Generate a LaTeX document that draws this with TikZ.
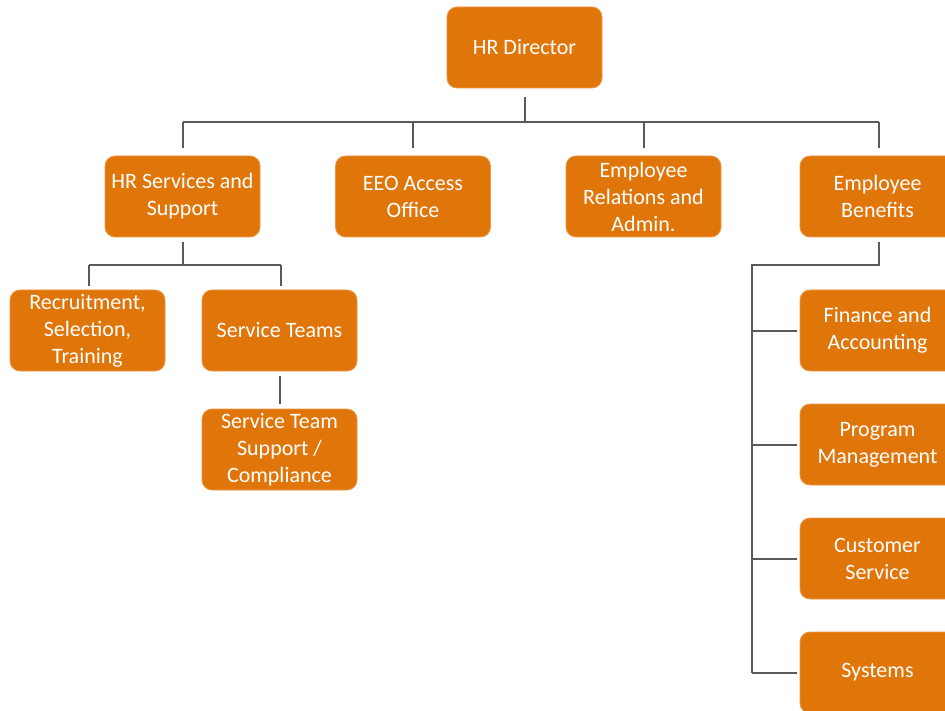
\documentclass[tikz,border=0pt]{standalone}
\usepackage{fontspec}
\setmainfont{Carlito}
\begin{document}
\begin{tikzpicture}[x=1pt,y=-1pt,
  box/.style={rectangle, rounded corners=10pt, draw=orgedge, line width=0.8pt, fill=org, text=white,
    minimum width=155pt, minimum height=81pt, inner sep=2pt, align=center,
    font=\fontsize{22}{27}\selectfont},
  conn/.style={draw=lineg, line width=2pt}]
\definecolor{org}{RGB}{224,118,10}
\definecolor{orgedge}{RGB}{236,150,70}
\definecolor{lineg}{RGB}{90,90,90}
\useasboundingbox (0,0) rectangle (945,711);
\node[box] (dir) at (524.5,47.5) {HR Director};
\node[box] (hrs) at (182.5,196.5) {HR Services and\\Support};
\node[box] (eeo) at (413,196.5) {EEO Access\\Office};
\node[box] (rel) at (643.5,196.5) {Employee\\Relations and\\Admin.};
\node[box] (ben) at (877.5,196.5) {Employee\\Benefits};
\node[box] (rec) at (87.5,330.5) {Recruitment,\\Selection,\\Training};
\node[box] (st) at (279.5,330.5) {Service Teams};
\node[box] (sts) at (279.5,449.5) {Service Team\\Support /\\Compliance};
\node[box] (fin) at (877.5,330.5) {Finance and\\Accounting};
\node[box] (prg) at (877.5,444.5) {Program\\Management};
\node[box] (cus) at (877.5,558.5) {Customer\\Service};
\node[box] (sys) at (877.5,672.5) {Systems};
% top bus
\coordinate (bus) at (525,122);
\draw[conn] ([yshift=-9pt]dir.south) -- (dir.south |- bus);
\draw[conn] (183,122) -- (879,122);
\draw[conn] (183,122) -- (183,148);
\draw[conn] (eeo.north |- bus) -- ([yshift=8pt]eeo.north);
\draw[conn] (rel.north |- bus) -- ([yshift=8pt]rel.north);
\draw[conn] (879,122) -- (879,148);
% HR services children
\coordinate (hb) at (183,265);
\draw[conn] (183,242) -- (hb);
\draw[conn] (89,265) -- (281,265);
\draw[conn] (89,265) -- (89,286);
\draw[conn] (281,265) -- (281,286);
% service teams child
\draw[conn] ([yshift=-5pt]st.south) -- ([yshift=5pt]sts.north);
% benefits children
\coordinate (trunk) at (752,265);
\draw[conn] (879,242) -- (879,265) -- (trunk) -- (trunk |- sys.west);
\draw[conn] (trunk |- fin.west) -- ([xshift=-3pt]fin.west);
\draw[conn] (trunk |- prg.west) -- ([xshift=-3pt]prg.west);
\draw[conn] (trunk |- cus.west) -- ([xshift=-3pt]cus.west);
\draw[conn] (trunk |- sys.west) -- ([xshift=-3pt]sys.west);
\end{tikzpicture}
\end{document}
